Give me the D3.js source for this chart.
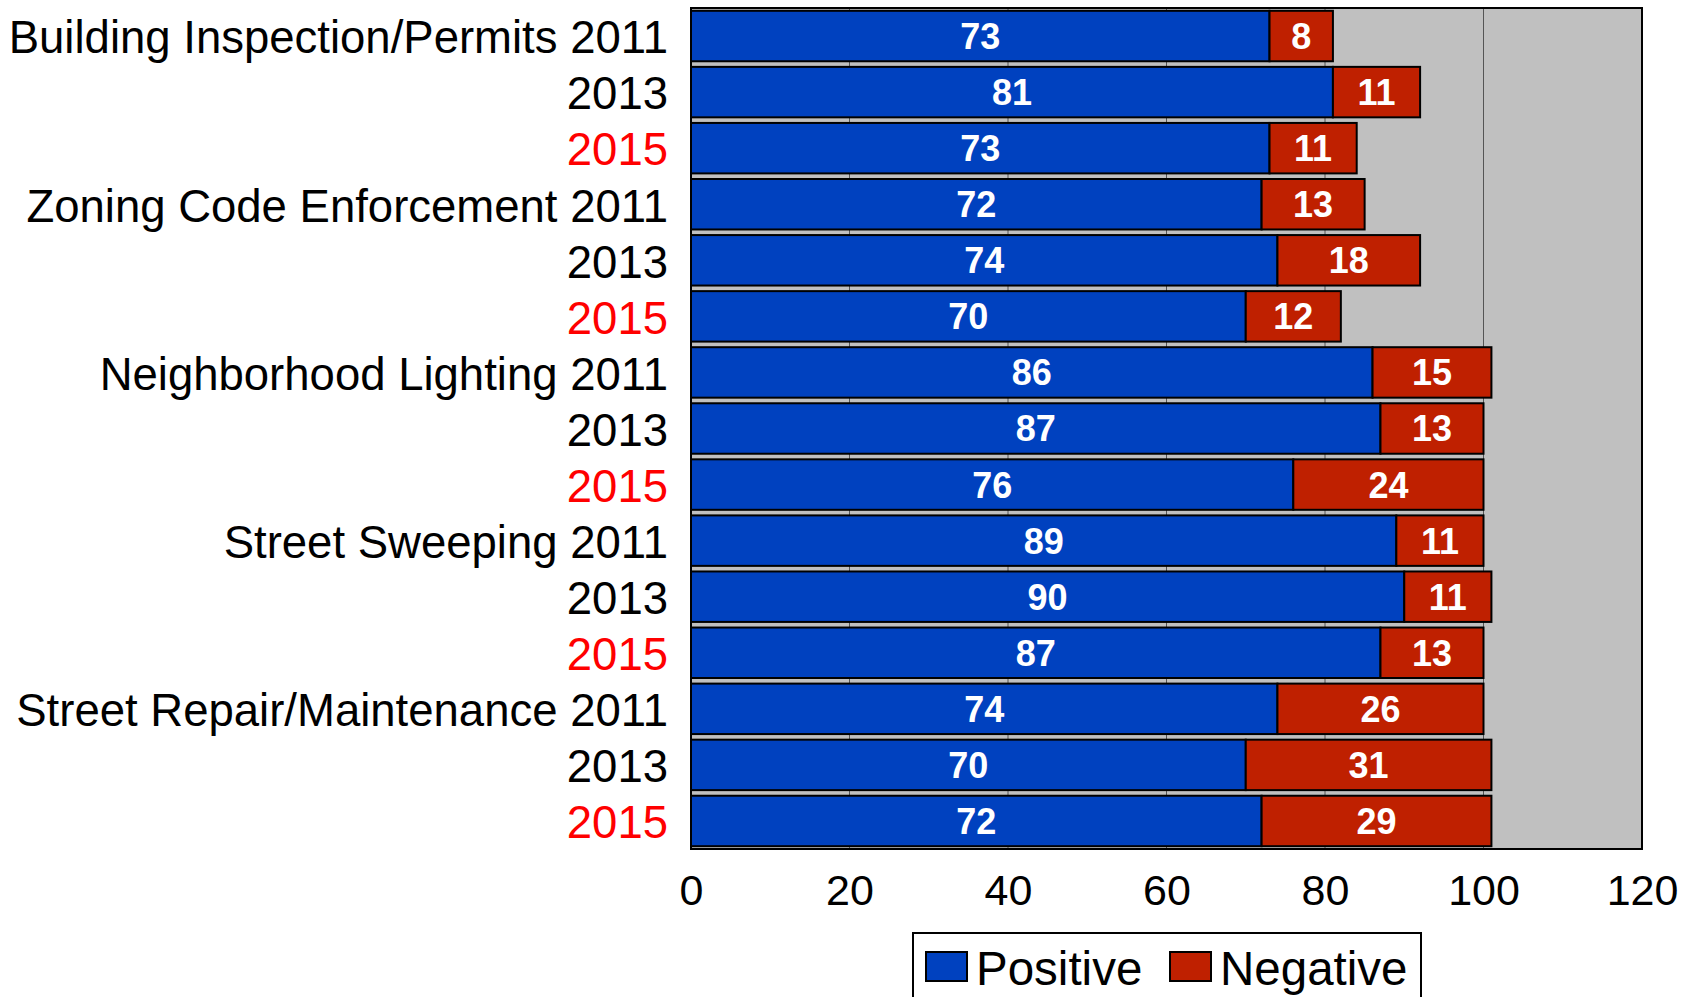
<!DOCTYPE html>
<html>
<head>
<meta charset="utf-8">
<script src="https://cdn.jsdelivr.net/npm/d3@7"></script>
<style>
  body { margin: 0; background: #fff; }
  svg { display: block; font-family: "Liberation Sans", Arial, sans-serif; }
</style>
</head>
<body>
<svg id="chart" width="1694" height="997"></svg>
<script>
var categories = [
  "Building Inspection/Permits 2011", "2013", "2015",
  "Zoning Code Enforcement 2011", "2013", "2015",
  "Neighborhood Lighting 2011", "2013", "2015",
  "Street Sweeping 2011", "2013", "2015",
  "Street Repair/Maintenance 2011", "2013", "2015"
];
var positive = [73, 81, 73, 72, 74, 70, 86, 87, 76, 89, 90, 87, 74, 70, 72];
var negative = [8, 11, 11, 13, 18, 12, 15, 13, 24, 11, 11, 13, 26, 31, 29];
var xTicks = [0, 20, 40, 60, 80, 100, 120];
var seriesNames = ["Positive", "Negative"];

var blue = "#0041bf", red = "#bf2000";

// plot area (full-size pixels)
var plotLeft = 691, plotRight = 1642, plotTop = 8, plotBottom = 849;

var svg = d3.select("#chart");

var x = d3.scaleLinear().domain([0, 120]).range([plotLeft, plotRight]);
var y = d3.scaleBand()
    .domain(d3.range(categories.length))
    .range([plotTop, plotBottom])
    .paddingInner(0.1)
    .paddingOuter(0.05);

// plot background
svg.append("rect")
    .attr("x", plotLeft).attr("y", plotTop)
    .attr("width", plotRight - plotLeft).attr("height", plotBottom - plotTop)
    .attr("fill", "#c0c0c0");

// gridlines
svg.append("g")
  .selectAll("line")
  .data(xTicks.slice(1, -1))
  .enter().append("line")
    .attr("x1", function(d) { return x(d); })
    .attr("x2", function(d) { return x(d); })
    .attr("y1", plotTop).attr("y2", plotBottom)
    .attr("stroke", "#555")
    .attr("stroke-width", 1);

var rows = svg.append("g")
  .selectAll("g")
  .data(categories)
  .enter().append("g");

rows.append("rect")
    .attr("x", x(0))
    .attr("y", function(d, i) { return y(i); })
    .attr("width", function(d, i) { return x(positive[i]) - x(0); })
    .attr("height", y.bandwidth())
    .attr("fill", blue)
    .attr("stroke", "#000")
    .attr("stroke-width", 2);

rows.append("rect")
    .attr("x", function(d, i) { return x(positive[i]); })
    .attr("y", function(d, i) { return y(i); })
    .attr("width", function(d, i) { return x(positive[i] + negative[i]) - x(positive[i]); })
    .attr("height", y.bandwidth())
    .attr("fill", red)
    .attr("stroke", "#000")
    .attr("stroke-width", 2);

rows.append("text")
    .attr("x", function(d, i) { return x(positive[i] / 2); })
    .attr("y", function(d, i) { return y(i) + y.bandwidth() / 2; })
    .attr("dy", "0.36em")
    .attr("text-anchor", "middle")
    .attr("fill", "#fff")
    .attr("font-weight", "bold")
    .attr("font-size", 36)
    .text(function(d, i) { return positive[i]; });

rows.append("text")
    .attr("x", function(d, i) { return x(positive[i] + negative[i] / 2); })
    .attr("y", function(d, i) { return y(i) + y.bandwidth() / 2; })
    .attr("dy", "0.36em")
    .attr("text-anchor", "middle")
    .attr("fill", "#fff")
    .attr("font-weight", "bold")
    .attr("font-size", 36)
    .text(function(d, i) { return negative[i]; });

// category labels
rows.append("text")
    .attr("x", plotLeft - 23)
    .attr("y", function(d, i) { return y(i) + y.bandwidth() / 2; })
    .attr("dy", "0.38em")
    .attr("text-anchor", "end")
    .attr("font-size", 45.5)
    .attr("fill", function(d) { return d === "2015" ? "#ff0000" : "#000"; })
    .text(function(d) { return d; });

// plot border
svg.append("rect")
    .attr("x", plotLeft).attr("y", plotTop)
    .attr("width", plotRight - plotLeft).attr("height", plotBottom - plotTop)
    .attr("fill", "none")
    .attr("stroke", "#000")
    .attr("stroke-width", 2);

// x axis
var xAxis = svg.append("g")
    .attr("transform", "translate(0," + plotBottom + ")")
    .call(d3.axisBottom(x).tickValues(xTicks).tickSize(0).tickPadding(25));
xAxis.select(".domain").remove();
xAxis.selectAll("text")
    .attr("font-size", 43)
    .attr("font-family", "Liberation Sans, Arial, sans-serif")
    .attr("fill", "#000");

// legend
var legend = svg.append("g");
legend.append("rect")
    .attr("x", 913).attr("y", 933)
    .attr("width", 508).attr("height", 90)
    .attr("fill", "#fff")
    .attr("stroke", "#000")
    .attr("stroke-width", 2);

var legendX = [926, 1170];
var items = legend.selectAll("g.item")
  .data(seriesNames)
  .enter().append("g")
    .attr("class", "item")
    .attr("transform", function(d, i) { return "translate(" + legendX[i] + ",952)"; });

items.append("rect")
    .attr("width", 41).attr("height", 29)
    .attr("fill", function(d, i) { return i === 0 ? blue : red; })
    .attr("stroke", "#000")
    .attr("stroke-width", 2);

items.append("text")
    .attr("x", 50)
    .attr("y", 33)
    .attr("font-size", 47.5)
    .text(function(d) { return d; });
</script>
</body>
</html>
